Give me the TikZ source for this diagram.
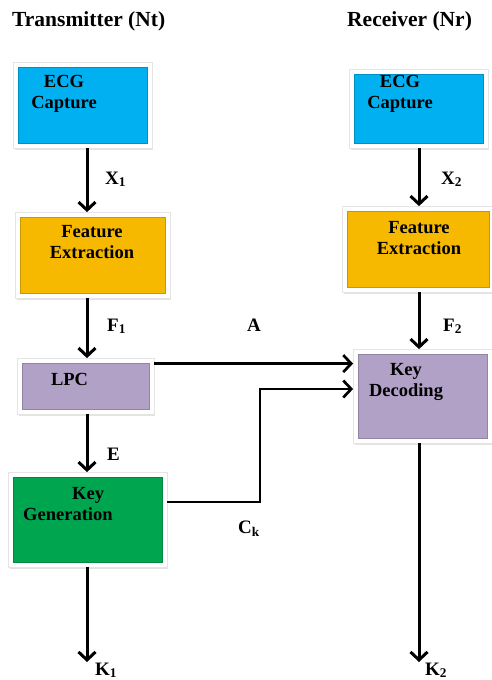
\documentclass[tikz,border=0pt]{standalone}
\usepackage{fontspec}
\setmainfont{Liberation Serif}
\usetikzlibrary{arrows.meta, shadows, backgrounds}
\definecolor{CAPBLUE}{HTML}{00B0F0}
\definecolor{FEATORANGE}{HTML}{F6B900}
\definecolor{CODEPURPLE}{HTML}{B2A1C7}
\definecolor{GENGREEN}{HTML}{00A550}
\definecolor{BLACK}{HTML}{000000}

\begin{document}
\begin{tikzpicture}[x=1pt, y=-1pt, font=\bfseries,
    block/.style={draw=#1!82!black, line width=0.8pt, fill=#1, inner sep=0pt},
    boxframe/.style={fill=white, draw=black!10, line width=0.4pt,
        drop shadow={shadow xshift=1.5pt, shadow yshift=-2.5pt, opacity=0.22}},
    blocktext/.style={inner sep=0pt, align=center, anchor=north,
        font=\fontsize{18.5}{21}\selectfont\bfseries},
    sig/.style={inner sep=0pt, anchor=base west,
        font=\fontsize{19}{21}\selectfont\bfseries},
    title/.style={anchor=west, inner sep=0pt, font=\fontsize{21.5}{23}\selectfont\bfseries},
    flow/.style={BLACK, line width=3pt, -{Straight Barb[length=8pt, width=17pt]}},
    gap/.style={shorten <=4.5pt, shorten >=4.5pt}]
    \useasboundingbox (0,0) rectangle (491,680);
    %
    \node[title] (titleT) at (12,21) {Transmitter (Nt)};
    \node[title] (titleR) at (347,21) {Receiver (Nr)};
    %
    \coordinate (colT) at (87,0);
    \coordinate (colR) at (419,0);
    %
    \node[block=CAPBLUE, minimum width=129pt, minimum height=76pt] (ecgT) at (82.5,105) {};
    \node[block=FEATORANGE, minimum width=145pt, minimum height=76pt] (featT) at (92.5,255) {};
    \node[block=CODEPURPLE, minimum width=127pt, minimum height=46pt] (lpcT) at (85.5,386) {};
    \node[block=GENGREEN, minimum width=149pt, minimum height=85pt] (keygenT) at (87.5,519.5) {};
    \node[block=CAPBLUE, minimum width=129pt, minimum height=69pt] (ecgR) at (418.5,108.5) {};
    \node[block=FEATORANGE, minimum width=142pt, minimum height=76pt] (featR) at (418,249) {};
    \node[block=CODEPURPLE, minimum width=129pt, minimum height=84pt] (keydecR) at (422.5,396) {};
    %
    \begin{scope}[on background layer]
        \foreach \b in {ecgT, featT, lpcT, keygenT, ecgR, featR, keydecR}
            \draw[boxframe] ([shift={(-4.5pt,-4.5pt)}]\b.south west) rectangle ([shift={(4.5pt,4.5pt)}]\b.north east);
    \end{scope}
    %
    \node[blocktext] (ecgTtxt) at (64,75) {ECG\\Capture};
    \node[blocktext] (featTtxt) at (92,225) {Feature\\Extraction};
    \node[blocktext] (lpcTtxt) at (69.5,373) {LPC};
    \node[blocktext, align=left, anchor=north west] (keygenTtxt) at (23,487) {\hspace*{49pt}Key\\Generation};
    \node[blocktext] (ecgRtxt) at (400,75) {ECG\\Capture};
    \node[blocktext] (featRtxt) at (419,221) {Feature\\Extraction};
    \node[blocktext] (keydecRtxt) at (406,363) {Key\\Decoding};
    %
    \draw[flow, gap] (ecgT.south -| colT) -- (featT.north -| colT);
    \draw[flow, gap] (featT.south -| colT) -- (lpcT.north -| colT);
    \draw[flow, gap] (lpcT.south -| colT) -- (keygenT.north -| colT);
    \coordinate (outT) at (87,662);
    \draw[flow, shorten <=4.5pt] (keygenT.south -| colT) -- (outT);
    %
    \draw[flow, gap] (ecgR.south -| colR) -- (featR.north -| colR);
    \draw[flow, gap] (featR.south -| colR) -- (keydecR.north -| colR);
    \coordinate (outR) at (419,662);
    \draw[flow, shorten <=4.5pt] (keydecR.south -| colR) -- (outR);
    %
    \draw[flow, line width=2.7pt, gap] ([yshift=-1pt]lpcT.north east) -- ([yshift=-1pt]lpcT.north east -| keydecR.west);
    \coordinate (ckturn) at (260,389);
    \draw[flow, line width=2.7pt, gap] ([yshift=17.5pt]keygenT.east) -| (ckturn) -- (ckturn -| keydecR.west);
    %
    \node[sig] (xT) at (105,184) {X\textsubscript{1}};
    \node[sig] (fT) at (107,331) {F\textsubscript{1}};
    \node[sig] (eT) at (107,460) {E};
    \node[sig] (kT) at (95,675) {K\textsubscript{1}};
    \node[sig] (xR) at (441,184) {X\textsubscript{2}};
    \node[sig] (fR) at (443,331) {F\textsubscript{2}};
    \node[sig] (kR) at (425,675) {K\textsubscript{2}};
    \node[sig] (aLink) at (247,331) {A};
    \node[sig] (ckLink) at (238,533) {C\textsubscript{k}};
\end{tikzpicture}
\end{document}
